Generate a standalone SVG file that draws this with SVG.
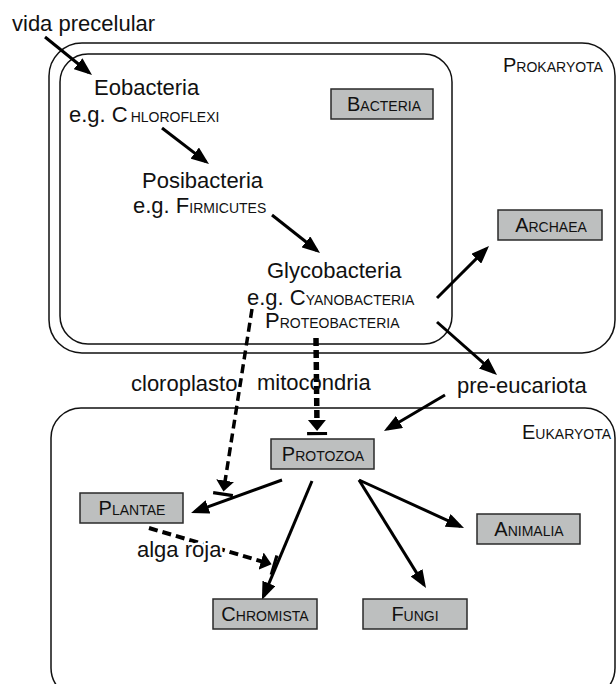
<svg xmlns="http://www.w3.org/2000/svg" width="616" height="684" viewBox="0 0 616 684">
<defs>
<style>
text{font-family:"Liberation Sans",Arial,sans-serif;fill:#111;}
.lbl{font-size:22px;}
.sc{font-size:14px;}
.bl{font-size:20px;}
.box{fill:#bdbfbf;stroke:#2a2a2a;stroke-width:1.5;}
.frame{fill:none;stroke:#111;stroke-width:1.5;}
.arr{fill:none;stroke:#000;stroke-width:3;marker-end:url(#ah);}
.dash{fill:none;stroke:#000;marker-end:url(#tee);}
.halo{stroke:#fff;stroke-width:5;paint-order:stroke;stroke-linejoin:round;}
</style>
<marker id="ah" markerUnits="userSpaceOnUse" viewBox="0 0 18 14" markerWidth="18" markerHeight="14" refX="14" refY="7" orient="auto">
<path d="M0,0 L18,7 L0,14 z" fill="#000"/>
</marker>
<marker id="tee" markerUnits="userSpaceOnUse" viewBox="0 -11 16 22" markerWidth="16" markerHeight="22" refX="6" refY="0" orient="auto">
<path d="M0,-9 L11,0 L0,9 z" fill="#000"/>
<rect x="12" y="-10" width="3.2" height="20" fill="#000"/>
</marker>
</defs>

<g id="containers">
<rect id="prokaryota-frame" class="frame" x="49" y="43" width="566" height="310" rx="33" ry="33"/>
<rect id="bacteria-frame" class="frame" x="60" y="54" width="392" height="290" rx="28" ry="28"/>
<rect id="eukaryota-frame" class="frame" x="51" y="408" width="564" height="290" rx="30" ry="30"/>
<text x="503" y="72"><tspan class="bl">P</tspan><tspan class="sc">ROKARYOTA</tspan></text>
<text x="522" y="439"><tspan class="bl">E</tspan><tspan class="sc">UKARYOTA</tspan></text>
</g>

<g id="connectors">
<line class="arr" x1="45" y1="37" x2="88.9" y2="72.5"/>
<line class="arr" x1="162" y1="128" x2="205.8" y2="161.6"/>
<line class="arr" x1="272" y1="215" x2="316.9" y2="250.5"/>
<line class="arr" x1="437" y1="298" x2="486.2" y2="248.8"/>
<line class="arr" x1="437" y1="322" x2="494" y2="372.4"/>
<line class="arr" x1="445" y1="395" x2="387.4" y2="429"/>
<line class="arr" x1="282" y1="480" x2="194.8" y2="511.6"/>
<line class="arr" x1="312" y1="481" x2="263.5" y2="596.3"/>
<line class="arr" x1="359" y1="480" x2="423.9" y2="584.6"/>
<line class="arr" x1="359" y1="480" x2="460.4" y2="526.3"/>
<line class="dash" x1="252" y1="309" x2="224.2" y2="486.6" stroke-width="3.5" stroke-dasharray="9 5"/>
<line class="dash" x1="316" y1="338" x2="317" y2="426" stroke-width="5.5" stroke-dasharray="8 4"/>
<line class="dash" x1="149" y1="528" x2="266.8" y2="562.9" stroke-width="4" stroke-dasharray="9 5"/>
</g>

<g id="vida-precelular"><text class="lbl" x="12" y="31">vida precelular</text></g>
<g id="eobacteria">
<text class="lbl" x="94" y="95">Eobacteria</text>
<text class="lbl" x="69" y="122">e.g. C<tspan class="sc" dx="3">HLOROFLEXI</tspan></text>
</g>
<g id="posibacteria">
<text class="lbl" x="142" y="188">Posibacteria</text>
<text class="lbl" x="133" y="213">e.g. F<tspan class="sc">IRMICUTES</tspan></text>
</g>
<g id="glycobacteria">
<text class="lbl" x="267" y="278">Glycobacteria</text>
<text class="lbl" x="247" y="305">e.g. C<tspan class="sc">YANOBACTERIA</tspan></text>
<text class="lbl" x="265" y="328">P<tspan class="sc">ROTEOBACTERIA</tspan></text>
</g>
<g id="pre-eucariota"><text class="lbl" x="457" y="393">pre-eucariota</text></g>

<g id="bacteria">
<rect class="box" x="331" y="89" width="102" height="30"/>
<text x="384" y="111" text-anchor="middle"><tspan class="bl">B</tspan><tspan class="sc">ACTERIA</tspan></text>
</g>
<g id="archaea">
<rect class="box" x="498" y="210" width="104" height="30"/>
<text x="551" y="232" text-anchor="middle"><tspan class="bl">A</tspan><tspan class="sc">RCHAEA</tspan></text>
</g>
<g id="protozoa">
<rect class="box" x="271" y="439" width="103" height="30"/>
<text x="323" y="461" text-anchor="middle"><tspan class="bl">P</tspan><tspan class="sc">ROTOZOA</tspan></text>
</g>
<g id="plantae">
<rect class="box" x="80" y="493" width="103" height="30"/>
<text x="132" y="515" text-anchor="middle"><tspan class="bl">P</tspan><tspan class="sc">LANTAE</tspan></text>
</g>
<g id="chromista">
<rect class="box" x="213" y="599" width="104" height="30"/>
<text x="265" y="621" text-anchor="middle"><tspan class="bl">C</tspan><tspan class="sc">HROMISTA</tspan></text>
</g>
<g id="fungi">
<rect class="box" x="363" y="599" width="104" height="30"/>
<text x="415" y="621" text-anchor="middle"><tspan class="bl">F</tspan><tspan class="sc">UNGI</tspan></text>
</g>
<g id="animalia">
<rect class="box" x="477" y="514" width="103" height="30"/>
<text x="529" y="536" text-anchor="middle"><tspan class="bl">A</tspan><tspan class="sc">NIMALIA</tspan></text>
</g>

<g id="edge-labels">
<text class="lbl" x="131" y="391">cloroplasto</text>
<text class="lbl" x="257" y="390">mitocondria</text>
<text class="lbl halo" x="137" y="557">alga roja</text>
</g>
</svg>
